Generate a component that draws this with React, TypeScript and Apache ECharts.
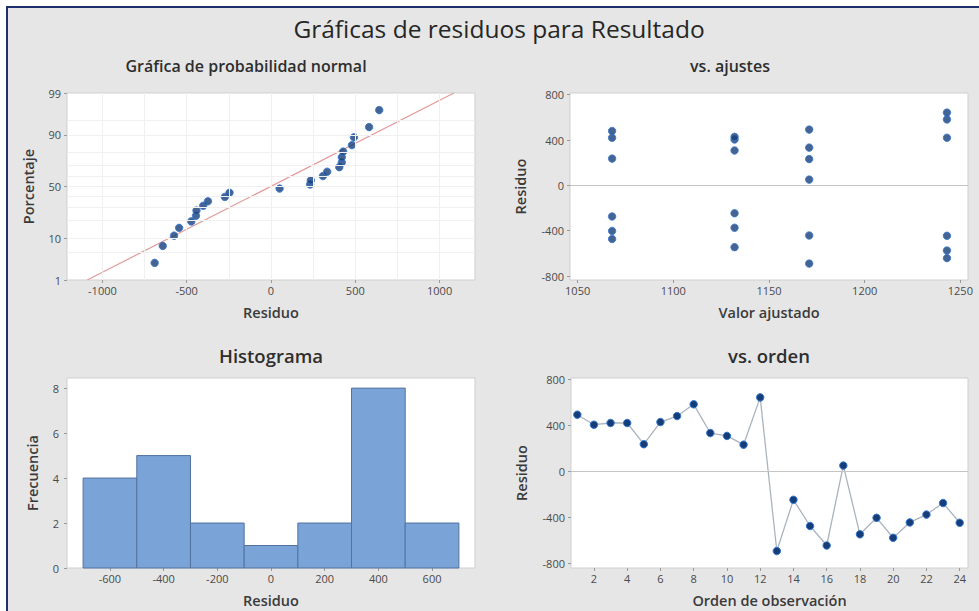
import React, { useEffect, useRef } from "react";
import * as echarts from "echarts";

// ---- Data ----
const residuals = [
  492, 405, 420, 420, 236, 428, 480, 582, 333, 308, 232, 642,
  -690, -246, -473, -642, 51, -545, -402, -575, -442, -374, -274, -445,
];
const fittedValues = [
  1171, 1132, 1068, 1243, 1068, 1132, 1068, 1243, 1171, 1132, 1171, 1243,
  1171, 1132, 1068, 1243, 1171, 1132, 1068, 1243, 1171, 1132, 1068, 1243,
];
const histBinStart = [-700, -500, -300, -100, 100, 300, 500];
const histBinEnd = [-500, -300, -100, 100, 300, 500, 700];
const histCounts = [4, 5, 2, 1, 2, 8, 2];

const probTicks = [1, 10, 50, 90, 99];
const probGrid = [1, 5, 10, 20, 30, 40, 50, 60, 70, 80, 90, 95, 99];
const normalXTicks = [-1000, -500, 0, 500, 1000];
const normalGridX = [-1000, -750, -500, -250, 0, 250, 500, 750, 1000];
const fitLineResid = [-1090, 1085];
const fitLinePct = [1, 99];
const fitXTicks = [1050, 1100, 1150, 1200, 1250];
const residTicks = [-800, -400, 0, 400, 800];
const histXTicks = [-600, -400, -200, 0, 200, 400, 600];
const freqTicks = [0, 2, 4, 6, 8];
const orderTicks = [2, 4, 6, 8, 10, 12, 14, 16, 18, 20, 22, 24];

// inverse standard normal CDF (probability-paper scale)
function probit(p: number): number {
  const a = [-3.969683028665376e1, 2.209460984245205e2, -2.759285104469687e2, 1.38357751867269e2, -3.066479806614716e1, 2.506628277459239];
  const b = [-5.447609879822406e1, 1.615858368580409e2, -1.556989798598866e2, 6.680131188771972e1, -1.328068155288572e1];
  const c = [-7.784894002430293e-3, -3.223964580411365e-1, -2.400758277161838, -2.549732539343734, 4.374664141464968, 2.938163982698783];
  const d = [7.784695709041462e-3, 3.224671290700398e-1, 2.445134137142996, 3.754408661907416];
  const pl = 0.02425;
  if (p < pl) {
    const q = Math.sqrt(-2 * Math.log(p));
    return (((((c[0] * q + c[1]) * q + c[2]) * q + c[3]) * q + c[4]) * q + c[5]) / ((((d[0] * q + d[1]) * q + d[2]) * q + d[3]) * q + 1);
  }
  if (p <= 1 - pl) {
    const q = p - 0.5;
    const r = q * q;
    return ((((((a[0] * r + a[1]) * r + a[2]) * r + a[3]) * r + a[4]) * r + a[5]) * q) / (((((b[0] * r + b[1]) * r + b[2]) * r + b[3]) * r + b[4]) * r + 1);
  }
  const q = Math.sqrt(-2 * Math.log(1 - p));
  return -(((((c[0] * q + c[1]) * q + c[2]) * q + c[3]) * q + c[4]) * q + c[5]) / ((((d[0] * q + d[1]) * q + d[2]) * q + d[3]) * q + 1);
}

const FONT = "Open Sans";
const TICK_COLOR = "#4a4a4a";
const NAME_COLOR = "#3a3a3a";
const DOT = "#173d78";
const DOT_EDGE = "#3479d0";

export default function App() {
  const ref = useRef<HTMLDivElement>(null);

  useEffect(() => {
    if (!ref.current) return;
    const chart = echarts.init(ref.current, undefined, { renderer: "svg" });

    const n = residuals.length;
    const sorted = [...residuals].sort((x, y) => x - y);
    const normalPts = sorted.map((r, i) => [r, probit((i + 1 - 0.3) / (n + 0.4))]);
    const zMin = probit(0.01);
    const zMax = probit(0.99);

    const plain = (v: number) => String(Math.round(v));
    const tickLabel = { fontFamily: FONT, fontSize: 11, color: TICK_COLOR, formatter: plain };
    const nameStyle = { fontFamily: FONT, fontSize: 14.5, fontWeight: 600, color: NAME_COLOR };
    const tick = (vals: number[]) => ({ show: true, length: 3, lineStyle: { color: "#9a9a9a" }, customValues: vals });

    const valueAxis = (o: any) => ({
      type: "value",
      axisLine: { show: false, onZero: false },
      splitLine: { show: false },
      ...o,
    });

    const gridBase = { show: true, backgroundColor: "#ffffff", borderColor: "#cfcfcf", borderWidth: 1 };
    const subTitle = (x: number, y: number, text: string, size: number) => ({
      type: "text", x, y,
      style: { text, fontFamily: FONT, fontSize: size, fontWeight: 600, fill: "#2e2e2e", textAlign: "center", textVerticalAlign: "middle" },
    });

    const option: any = {
      animation: false,
      backgroundColor: "transparent",
      textStyle: { fontFamily: FONT },
      grid: [
        { left: 67, top: 93, width: 408, height: 187, ...gridBase },
        { left: 570, top: 93, width: 398, height: 187, ...gridBase },
        { left: 67, top: 378, width: 408, height: 190, ...gridBase },
        { left: 571, top: 378, width: 397, height: 190, ...gridBase },
      ],
      xAxis: [
        valueAxis({
          gridIndex: 0, min: -1210, max: 1210,
          name: "Residuo", nameLocation: "middle", nameGap: 25, nameTextStyle: nameStyle,
          axisTick: tick(normalXTicks),
          axisLabel: { ...tickLabel, margin: 5, customValues: normalXTicks },
        }),
        valueAxis({
          gridIndex: 1, min: 1046, max: 1254,
          name: "Valor ajustado", nameLocation: "middle", nameGap: 25, nameTextStyle: nameStyle,
          axisTick: tick(fitXTicks),
          axisLabel: { ...tickLabel, margin: 5, customValues: fitXTicks },
        }),
        valueAxis({
          gridIndex: 2, min: -760, max: 760,
          name: "Residuo", nameLocation: "middle", nameGap: 25, nameTextStyle: nameStyle,
          axisTick: tick(histXTicks),
          axisLabel: { ...tickLabel, margin: 5, customValues: histXTicks },
        }),
        valueAxis({
          gridIndex: 3, min: 0.62, max: 24.5,
          name: "Orden de observación", nameLocation: "middle", nameGap: 25, nameTextStyle: nameStyle,
          axisTick: tick(orderTicks),
          axisLabel: { ...tickLabel, margin: 5, customValues: orderTicks },
        }),
      ],
      yAxis: [
        valueAxis({
          gridIndex: 0, min: zMin, max: zMax,
          name: "Porcentaje", nameLocation: "middle", nameGap: 31, nameTextStyle: nameStyle,
          axisTick: tick(probTicks.map((p) => probit(p / 100))),
          axisLabel: {
            ...tickLabel, margin: 6,
            customValues: probTicks.map((p) => probit(p / 100)),
            formatter: (v: number) => {
              let best = probTicks[0];
              probTicks.forEach((p) => { if (Math.abs(probit(p / 100) - v) < Math.abs(probit(best / 100) - v)) best = p; });
              return String(best);
            },
          },
        }),
        valueAxis({
          gridIndex: 1, min: -835, max: 815,
          name: "Residuo", nameLocation: "middle", nameGap: 42, nameTextStyle: nameStyle,
          axisTick: tick(residTicks),
          axisLabel: { ...tickLabel, margin: 6, customValues: residTicks },
        }),
        valueAxis({
          gridIndex: 2, min: 0, max: 8.45,
          name: "Frecuencia", nameLocation: "middle", nameGap: 27, nameTextStyle: nameStyle,
          axisTick: tick(freqTicks),
          axisLabel: { ...tickLabel, margin: 8, customValues: freqTicks },
        }),
        valueAxis({
          gridIndex: 3, min: -837, max: 810,
          name: "Residuo", nameLocation: "middle", nameGap: 42, nameTextStyle: nameStyle,
          axisTick: tick(residTicks),
          axisLabel: { ...tickLabel, margin: 6, customValues: residTicks },
        }),
      ],
      series: [
        // normal probability gridlines
        {
          type: "line", xAxisIndex: 0, yAxisIndex: 0, data: [], silent: true,
          markLine: {
            silent: true, symbol: ["none", "none"], label: { show: false },
            lineStyle: { color: "#f0f0f0", type: "solid", width: 1 },
            data: [
              ...normalGridX.map((x) => ({ xAxis: x })),
              ...probGrid.map((p) => ({ yAxis: probit(p / 100) })),
            ],
          },
        },
        // fitted normal line
        {
          type: "line", xAxisIndex: 0, yAxisIndex: 0, silent: true, symbol: "none",
          lineStyle: { color: "#e39a9a", width: 1.2 },
          data: fitLineResid.map((x, i) => [x, probit(fitLinePct[i] / 100)]),
          z: 3,
        },
        {
          type: "scatter", xAxisIndex: 0, yAxisIndex: 0, symbolSize: 7.5,
          itemStyle: { color: DOT, borderColor: DOT_EDGE, borderWidth: 1 },
          data: normalPts, z: 4,
        },
        // vs fits
        {
          type: "scatter", xAxisIndex: 1, yAxisIndex: 1, symbolSize: 7.5,
          itemStyle: { color: DOT, borderColor: DOT_EDGE, borderWidth: 1 },
          data: residuals.map((r, i) => [fittedValues[i], r]),
          markLine: {
            silent: true, symbol: ["none", "none"], label: { show: false },
            lineStyle: { color: "#c4c4c4", type: "solid", width: 1 },
            data: [{ yAxis: 0 }],
          },
        },
        // histogram
        {
          type: "custom", xAxisIndex: 2, yAxisIndex: 2,
          data: histCounts.map((c, i) => [histBinStart[i], histBinEnd[i], c]),
          renderItem: (params: any, api: any) => {
            const p0 = api.coord([api.value(0), api.value(2)]);
            const p1 = api.coord([api.value(1), 0]);
            return {
              type: "rect",
              shape: { x: p0[0], y: p0[1], width: p1[0] - p0[0], height: p1[1] - p0[1] },
              style: { fill: "#7aa3d8", stroke: "#52739f", lineWidth: 1 },
            };
          },
        },
        // vs order
        {
          type: "line", xAxisIndex: 3, yAxisIndex: 3, symbol: "circle", symbolSize: 7.5,
          lineStyle: { color: "#aab4be", width: 1.3 },
          itemStyle: { color: DOT, borderColor: DOT_EDGE, borderWidth: 1 },
          data: residuals.map((r, i) => [i + 1, r]),
          markLine: {
            silent: true, symbol: ["none", "none"], label: { show: false },
            lineStyle: { color: "#c4c4c4", type: "solid", width: 1 },
            data: [{ yAxis: 0 }],
          },
          z: 3,
        },
      ],
      graphic: [
        { type: "text", x: 499, y: 28, style: { text: "Gráficas de residuos para Resultado", fontFamily: FONT, fontSize: 24.5, fill: "#262626", textAlign: "center", textVerticalAlign: "middle" } },
        subTitle(246, 66, "Gráfica de probabilidad normal", 16),
        subTitle(730, 66, "vs. ajustes", 16),
        subTitle(271, 355, "Histograma", 18.5),
        subTitle(769, 355, "vs. orden", 18.5),
      ],
    };

    chart.setOption(option);
    return () => chart.dispose();
  }, []);

  return (
    <div style={{ position: "absolute", left: 0, top: 0, width: 979, height: 611, background: "#ffffff", overflow: "hidden" }}>
      <div
        style={{
          position: "absolute", left: 6, top: 6, width: 973, height: 605,
          background: "#e6e6e6", borderLeft: "2px solid #1d2f6c", borderTop: "2px solid #1d2f6c", boxSizing: "border-box",
        }}
      />
      <div ref={ref} style={{ position: "absolute", left: 0, top: 0, width: 979, height: 611 }} />
    </div>
  );
}
